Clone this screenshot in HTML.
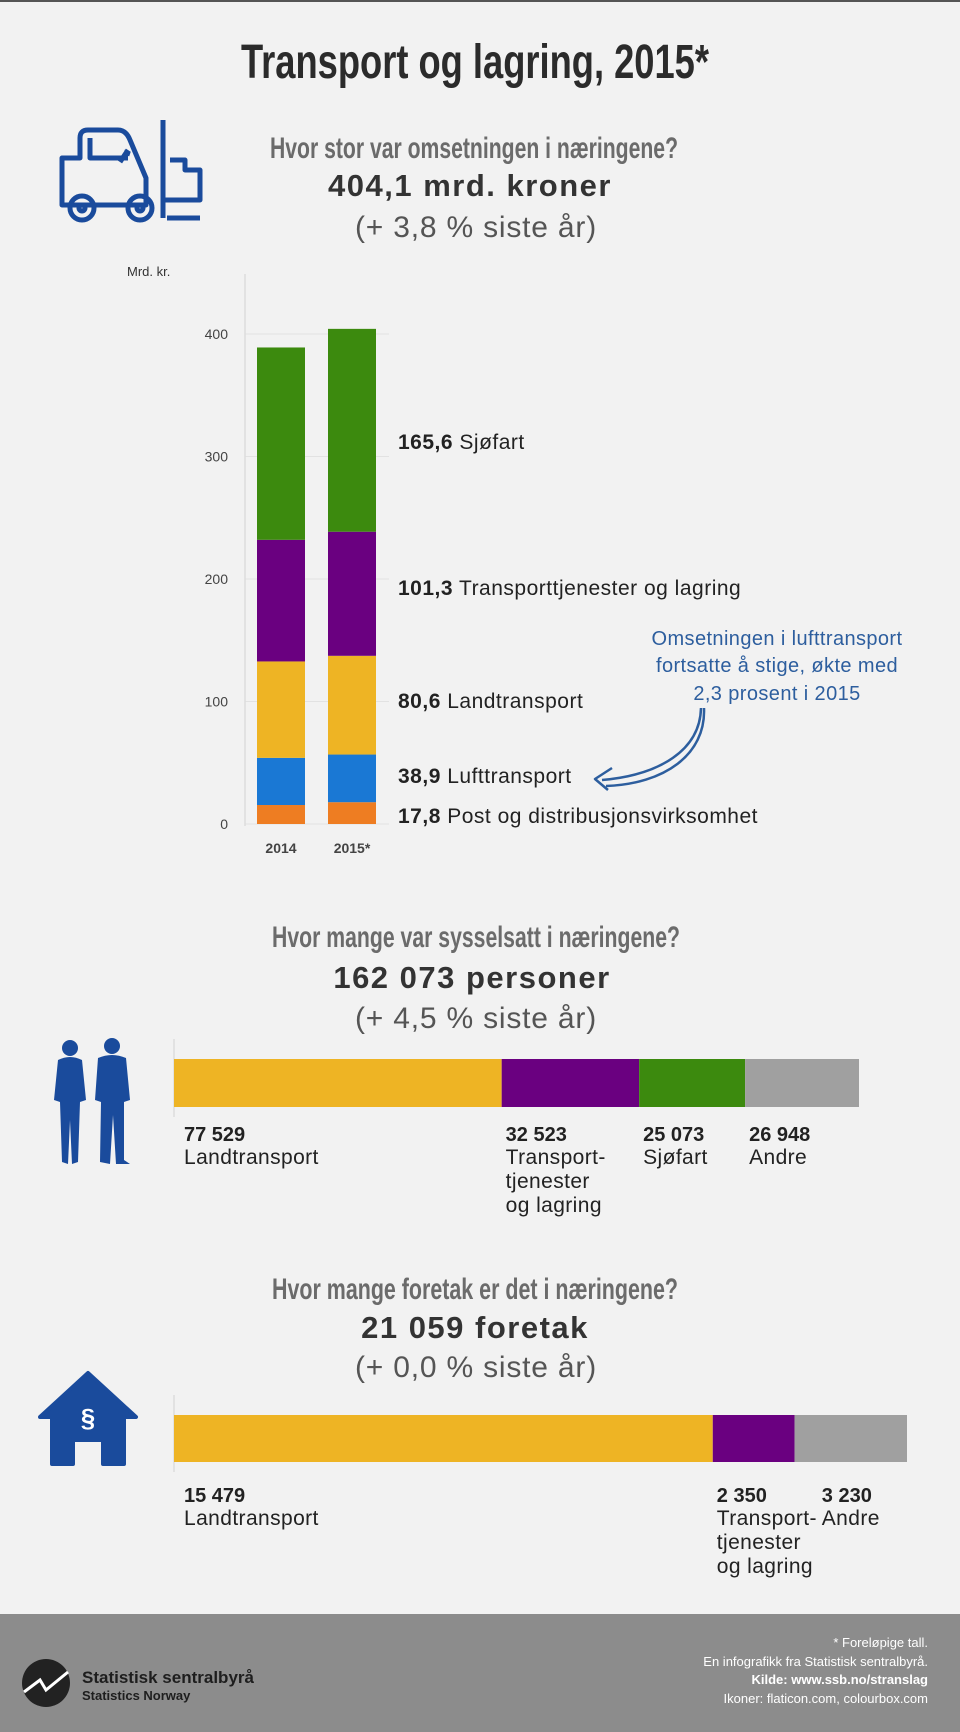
<!DOCTYPE html>
<html><head><meta charset="utf-8"><style>
html,body{margin:0;padding:0;background:#f2f2f2;}
svg{display:block;font-family:"Liberation Sans",sans-serif;}
</style></head><body>
<svg id="root" width="960" height="1732" viewBox="0 0 960 1732" xmlns="http://www.w3.org/2000/svg">
<rect x="0" y="0" width="960" height="1732" fill="#f2f2f2"/>
<rect x="0" y="0" width="960" height="2" fill="#555"/>
<text x="475" y="78" text-anchor="middle" font-size="48" font-weight="bold" fill="#2b2b2b" textLength="468" lengthAdjust="spacingAndGlyphs">Transport og lagring, 2015*</text>

<g fill="none" stroke="#1a4b9c" stroke-width="5" stroke-linejoin="round">
<path d="M62 180 V158 H80 V138 Q80 130 88 130 H118 Q126 130 130 140 L146 178 V205 H62 Z"/>
<path d="M90 138 V158 H128"/>
<path d="M128 150 L120 162 M124 152 l6 2"/>
<line x1="163" y1="120" x2="163" y2="218"/>
<path d="M163 200 H200 V170 H185 V160 H170"/>
<path d="M167 218 H200"/>
<circle cx="82" cy="208" r="12"/><circle cx="82" cy="208" r="3"/>
<circle cx="140" cy="208" r="12"/><circle cx="140" cy="208" r="3"/>
</g>

<text x="474" y="158" text-anchor="middle" font-size="30" font-weight="bold" fill="#6b6b6b" textLength="408" lengthAdjust="spacingAndGlyphs">Hvor stor var omsetningen i næringene?</text>
<text x="470" y="196" text-anchor="middle" font-size="31" font-weight="bold" letter-spacing="1.5" fill="#333">404,1 mrd. kroner</text>
<text x="476" y="237" text-anchor="middle" font-size="30" letter-spacing="0.8" fill="#555">(+ 3,8 % siste år)</text>

<g id="bar-chart"></g>

<g fill="#2d5e9e" font-size="20" letter-spacing="0.4" text-anchor="middle">
<text x="777" y="645">Omsetningen i lufttransport</text>
<text x="777" y="672">fortsatte å stige, økte med</text>
<text x="777" y="700">2,3 prosent i 2015</text>
</g>
<path d="M701 708 C700 750 660 775 602 780" fill="none" stroke="#2d5e9e" stroke-width="2.5"/>
<path d="M612 768 L595 779 L608 790 M704 708 C706 755 664 784 606 786" fill="none" stroke="#2d5e9e" stroke-width="2.5" stroke-linejoin="round"/>

<text x="476" y="947" text-anchor="middle" font-size="30" font-weight="bold" fill="#6b6b6b" textLength="408" lengthAdjust="spacingAndGlyphs">Hvor mange var sysselsatt i næringene?</text>
<text x="472" y="988" text-anchor="middle" font-size="31" font-weight="bold" letter-spacing="1.5" fill="#333">162 073 personer</text>
<text x="476" y="1028" text-anchor="middle" font-size="30" letter-spacing="0.8" fill="#555">(+ 4,5 % siste år)</text>
<g fill="#1a4b9c">
<circle cx="70" cy="1048" r="8"/>
<path d="M58 1060 Q70 1054 82 1060 L86 1100 L80 1102 L78 1162 L72 1164 L70 1120 L68 1164 L62 1162 L60 1102 L54 1100 Z"/>
<circle cx="112" cy="1046" r="8"/>
<path d="M98 1058 Q112 1052 126 1058 L130 1100 L124 1102 L124 1160 L130 1164 L116 1164 L113 1115 L110 1164 L100 1162 L101 1102 L95 1100 Z"/>
</g>
<g id="emp-chart"></g>

<text x="475" y="1299" text-anchor="middle" font-size="30" font-weight="bold" fill="#6b6b6b" textLength="406" lengthAdjust="spacingAndGlyphs">Hvor mange foretak er det i næringene?</text>
<text x="475" y="1338" text-anchor="middle" font-size="31" font-weight="bold" letter-spacing="1.5" fill="#333">21 059 foretak</text>
<text x="476" y="1377" text-anchor="middle" font-size="30" letter-spacing="0.8" fill="#555">(+ 0,0 % siste år)</text>
<g>
<path d="M88 1373 L136 1417 L124 1417 L124 1464 L103 1464 L103 1440 L73 1440 L73 1464 L52 1464 L52 1417 L40 1417 Z" fill="#1a4b9c" stroke="#1a4b9c" stroke-width="4" stroke-linejoin="round"/>
<text x="88" y="1427" text-anchor="middle" font-size="26" font-weight="bold" fill="#fff">§</text>
</g>
<g id="ent-chart"></g>

<rect x="0" y="1614" width="960" height="118" fill="#8c8c8c"/>
<g>
<circle cx="46" cy="1683" r="24" fill="#222"/>
<path d="M24 1692 L40 1680 L46 1690 L68 1672" fill="none" stroke="#fff" stroke-width="3"/>
<text x="82" y="1683" font-size="17" font-weight="bold" fill="#1e1e1e">Statistisk sentralbyrå</text>
<text x="82" y="1700" font-size="13" font-weight="bold" fill="#1e1e1e">Statistics Norway</text>
</g>
<g fill="#fff" font-size="13" text-anchor="end">
<text x="928" y="1647">* Foreløpige tall.</text>
<text x="928" y="1666">En infografikk fra Statistisk sentralbyrå.</text>
<text x="928" y="1684" font-weight="bold">Kilde: www.ssb.no/stranslag</text>
<text x="928" y="1703">Ikoner: flaticon.com, colourbox.com</text>
</g>
</svg>
<script>
const years = ["2014", "2015*"];
const post = [15.5, 17.8];
const luft = [38.5, 38.9];
const land = [78.7, 80.6];
const transport = [99.3, 101.3];
const sjofart = [157.0, 165.6];
const yTicks = [0, 100, 200, 300, 400];
const seriesNames = ["Post og distribusjonsvirksomhet", "Lufttransport", "Landtransport", "Transporttjenester og lagring", "Sjøfart"];

const empValues = [77529, 32523, 25073, 26948];
const empNumbers = ["77 529", "32 523", "25 073", "26 948"];
const empNames = [["Landtransport"], ["Transport-", "tjenester", "og lagring"], ["Sjøfart"], ["Andre"]];

const entValues = [15479, 2350, 3230];
const entNumbers = ["15 479", "2 350", "3 230"];
const entNames = [["Landtransport"], ["Transport-", "tjenester", "og lagring"], ["Andre"]];

const NS = "http://www.w3.org/2000/svg";
function mk(tag, attrs, parent) {
  const e = document.createElementNS(NS, tag);
  for (const k in attrs) e.setAttribute(k, attrs[k]);
  parent.appendChild(e);
  return e;
}
const colors = ["#ee7d22", "#1a78d4", "#eeb424", "#6a0080", "#3c8a0e"];

const chart = document.getElementById("bar-chart");
const y0 = 824, pxPer = 1.225;
function yScale(v) { return y0 - v * pxPer; }
const barX = [257, 328], barW = 48;
const yl = mk("text", {x: 127, y: 276, "font-size": 13, fill: "#333"}, chart);
yl.textContent = "Mrd. kr.";


yTicks.forEach(t => {
  const g = mk("line", {x1: 245, x2: 389, y1: yScale(t), y2: yScale(t), stroke: "#e2e2e2", "stroke-width": 1}, chart);
  
  
  const tx = mk("text", {x: 228, y: yScale(t) + 5, "text-anchor": "end", "font-size": 14, fill: "#444"}, chart);
  tx.textContent = t;
  
  
});
const ax = mk("line", {x1: 245, x2: 245, y1: 274, y2: 826, stroke: "#ddd", "stroke-width": 1.5}, chart);


const series = [post, luft, land, transport, sjofart];
years.forEach((yr, i) => {
  let base = 0;
  series.forEach((s, j) => {
    const r = mk("rect", {x: barX[i], y: yScale(base + s[i]), width: barW, height: s[i] * pxPer, fill: colors[j]}, chart);
    
    
    base += s[i];
  });
  const l = mk("text", {x: barX[i] + barW / 2, y: 853, "text-anchor": "middle", "font-size": 14, "font-weight": "bold", fill: "#444"}, chart);
  l.textContent = yr;
  
  
});
const labelY = [816, 776, 701, 588, 442];
series.forEach((s, j) => {
  const t = mk("text", {x: 398, y: labelY[j] + 7, "font-size": 21, "letter-spacing": 0.5, fill: "#222"}, chart);
  const b = mk("tspan", {"font-weight": "bold"}, t);
  b.textContent = s[1].toFixed(1).replace(".", ",");
  const n = mk("tspan", {}, t);
  n.textContent = " " + seriesNames[j];
  
  
});

function hbar(parent, values, numbers, names, cols, x0, totalW, y, h, labY) {
  const tot = values.reduce((a, b) => a + b, 0);
  const ax = mk("line", {x1: x0, x2: x0, y1: y - 20, y2: y + h + 10, stroke: "#ddd", "stroke-width": 1.5}, parent);
  
  
  let x = x0;
  let prevLx = -1000;
  values.forEach((v, i) => {
    const w = v / tot * totalW;
    const r = mk("rect", {x: x, y: y, width: w, height: h, fill: cols[i]}, parent);
    
    
    const lx = Math.max(x + (i === 0 ? 10 : 4), prevLx + 105);
    prevLx = lx;
    const t = mk("text", {x: lx, y: labY, "font-size": 20, "font-weight": "bold", fill: "#222"}, parent);
    t.textContent = numbers[i];
    
    
    names[i].forEach((nm, k) => {
      const n = mk("text", {x: lx, y: labY + 23 + k * 24, "font-size": 21, "letter-spacing": 0.4, fill: "#222"}, parent);
      n.textContent = nm;
      
      
    });
    x += w;
  });
}
hbar(document.getElementById("emp-chart"), empValues, empNumbers, empNames,
  ["#eeb424", "#6a0080", "#3c8a0e", "#a0a0a0"], 174, 685, 1059, 48, 1141);
hbar(document.getElementById("ent-chart"), entValues, entNumbers, entNames,
  ["#eeb424", "#6a0080", "#a0a0a0"], 174, 733, 1415, 47, 1502);
</script>
</body></html>
